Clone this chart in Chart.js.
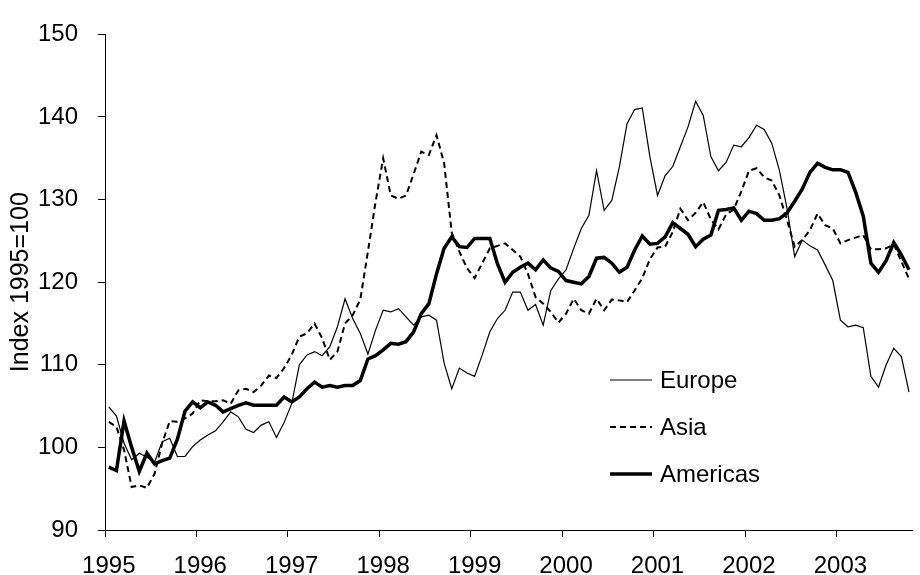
<!DOCTYPE html>
<html>
<head>
<meta charset="utf-8">
<title>Index 1995=100</title>
<script src="https://cdn.jsdelivr.net/npm/chart.js@4.4.1/dist/chart.umd.min.js"></script>
<style>
  html, body { margin: 0; padding: 0; background: #fff; overflow: hidden; }
  #wrap { position: relative; width: 920px; height: 575px; overflow: hidden; }
  #chart { position: absolute; left: 0; top: 0; }
  .legend-row {
    position: absolute; left: 610px; height: 30px;
    display: flex; align-items: center; white-space: nowrap;
    font: 24px "Liberation Sans", Arial, sans-serif; color: #000;
  }
  .legend-row svg { margin-right: 8px; }
</style>
</head>
<body>
<div id="wrap">
  <canvas id="chart" width="924" height="575"></canvas>
</div>
<script>
// ── Dados ─────────────────────────────────────────────────────────────────────
const startYear = 1995;
const nMonths   = 106;   // jan/1995 .. out/2003
const yearTicks = ['1995', '1996', '1997', '1998', '1999', '2000', '2001', '2002', '2003'];

const europe = [
  104.9, 103.8, 100.5,  98.5,  99.3,  98.8,  98.2, 100.7, 101.1,  98.9,  98.9, 100.1,
  100.9, 101.5, 102.0, 103.1, 104.3, 103.7, 102.2, 101.8, 102.7, 103.1, 101.2, 103.0,
  105.3, 110.0, 111.2, 111.6, 111.1, 112.2, 114.6, 118.0, 115.6, 113.8, 111.3, 114.2,
  116.6, 116.4, 116.8, 115.8, 114.8, 115.8, 116.0, 115.4, 110.2, 107.1, 109.6, 109.0,
  108.6, 111.2, 114.0, 115.6, 116.6, 118.8, 118.8, 116.6, 117.3, 114.8, 119.0, 120.4,
  121.5, 124.1, 126.5, 128.1, 133.5, 128.7, 129.9, 134.0, 139.2, 140.9, 141.1, 135.2,
  130.5, 132.9, 134.0, 136.4, 138.8, 141.9, 140.2, 135.2, 133.5, 134.5, 136.6, 136.4,
  137.5, 139.0, 138.5, 136.8, 133.5, 128.9, 123.1, 125.1, 124.4, 123.9, 122.1, 120.2,
  115.4, 114.6, 114.8, 114.5, 108.6, 107.3, 110.0, 112.0, 111.0, 106.7,
];

const asia = [
  103.1, 102.5,  99.7,  95.2,  95.4,  95.1,  96.8, 100.5, 103.2, 103.1, 103.5, 104.1,
  105.7, 105.6, 105.6, 105.7, 105.3, 106.9, 107.1, 106.7, 107.5, 108.7, 108.4, 109.6,
  111.2, 113.4, 113.8, 115.0, 113.2, 110.6, 111.6, 115.0, 116.0, 117.9, 123.7, 129.7,
  135.0, 130.5, 130.1, 130.5, 133.1, 135.8, 135.4, 137.8, 134.4, 126.0, 123.7, 121.7,
  120.5, 122.3, 124.1, 124.4, 124.7, 123.9, 123.1, 121.0, 118.2, 117.4, 116.4, 115.1,
  116.2, 118.0, 116.6, 116.2, 118.0, 116.6, 117.9, 117.8, 117.6, 119.0, 120.5, 122.8,
  124.2, 124.3, 126.1, 128.9, 127.5, 128.4, 129.7, 127.6, 126.4, 128.2, 128.8, 131.0,
  133.5, 133.8, 132.7, 132.3, 130.5, 127.5, 124.3, 125.1, 126.3, 128.3, 126.9, 126.5,
  124.7, 125.1, 125.4, 125.7, 124.0, 124.0, 124.1, 124.6, 122.5, 120.4,
];

const americas = [
   97.6,  97.2, 103.2, 100.0,  97.1,  99.3,  98.0,  98.4,  98.7, 101.0, 104.4, 105.5,
  104.8, 105.5, 105.1, 104.3, 104.7, 105.1, 105.4, 105.1, 105.1, 105.1, 105.1, 106.1,
  105.5, 106.1, 107.1, 107.9, 107.3, 107.5, 107.3, 107.5, 107.5, 108.1, 110.7, 111.1,
  111.8, 112.6, 112.5, 112.8, 114.0, 116.2, 117.4, 121.0, 124.1, 125.5, 124.3, 124.2,
  125.3, 125.3, 125.3, 122.2, 120.0, 121.2, 121.8, 122.3, 121.5, 122.7, 121.7, 121.3,
  120.2, 120.0, 119.8, 120.7, 122.9, 123.0, 122.3, 121.2, 121.8, 123.9, 125.6, 124.6,
  124.7, 125.5, 127.2, 126.5, 125.8, 124.3, 125.2, 125.7, 128.7, 128.8, 129.0, 127.5,
  128.6, 128.3, 127.5, 127.5, 127.7, 128.4, 129.8, 131.3, 133.3, 134.4, 133.9, 133.6,
  133.6, 133.3, 130.9, 128.0, 122.3, 121.2, 122.6, 124.8, 123.3, 121.5,
];

// rótulos mensais da categoria (só os de janeiro aparecem no eixo)
const months = [];
for (let i = 0; i < nMonths; i++) {
  months.push(`${startYear + Math.floor(i / 12)}-${String(i % 12 + 1).padStart(2, '0')}`);
}

// ── Estilo ────────────────────────────────────────────────────────────────────
const FAMILY = '"Liberation Sans", Arial, sans-serif';
const FONT   = { family: FAMILY, size: 24 };

const SERIES = [
  { label: 'Europe',   data: europe,   width: 1.2, dash: [] },
  { label: 'Asia',     data: asia,     width: 2,   dash: [6, 4] },
  { label: 'Americas', data: americas, width: 3.5, dash: [] },
];

// ── Gráfico ───────────────────────────────────────────────────────────────────
new Chart(document.getElementById('chart'), {
  type: 'line',
  data: {
    labels: months,
    datasets: SERIES.map(s => ({
      label: s.label,
      data: s.data,
      borderColor: '#000',
      borderWidth: s.width,
      borderDash: s.dash,
      pointRadius: 0,
      tension: 0,
      fill: false,
    })),
  },
  options: {
    responsive: false,
    animation: false,
    devicePixelRatio: 1,
    layout: { padding: { top: 26, right: 0, bottom: 0, left: 0 } },
    plugins: { legend: { display: false }, tooltip: { enabled: false } },
    scales: {
      x: {
        type: 'category',
        offset: true,
        grid: {
          offset: true,
          drawOnChartArea: false,
          tickLength: 7,
          lineWidth: 1,
          color: ctx => (ctx.index % 12 === 0 ? '#000' : 'rgba(0,0,0,0)'),
        },
        border: { color: '#000', width: 1 },
        ticks: {
          autoSkip: false,
          maxRotation: 0,
          minRotation: 0,
          padding: 15,
          color: '#000',
          font: FONT,
          callback: (v, i) => (i % 12 === 0 ? yearTicks[i / 12] : ''),
        },
        afterFit: s => { s.height = 45; },
      },
      y: {
        min: 90,
        max: 150,
        ticks: { stepSize: 10, padding: 20, color: '#000', font: FONT },
        grid: { drawOnChartArea: false, tickLength: 7, color: '#000' },
        border: { color: '#000', width: 1 },
        title: {
          display: true,
          text: 'Index 1995=100',
          color: '#000',
          font: { family: FAMILY, size: 25 },
          padding: { top: 6, bottom: 0 },
        },
        afterFit: s => { s.width = 105; },
      },
    },
  },
});

// ── Legenda ───────────────────────────────────────────────────────────────────
const wrap = document.getElementById('wrap');
const legendY = [380, 427, 474];
SERIES.forEach((s, k) => {
  const row = document.createElement('div');
  row.className = 'legend-row';
  row.style.top = (legendY[k] - 15) + 'px';
  row.innerHTML = `
    <svg width="42" height="10"><line x1="0" y1="5" x2="42" y2="5" stroke="#000"
      stroke-width="${s.width}" stroke-dasharray="${s.dash.join(' ')}"/></svg>
    <span>${s.label}</span>`;
  wrap.appendChild(row);
});
</script>
</body>
</html>
